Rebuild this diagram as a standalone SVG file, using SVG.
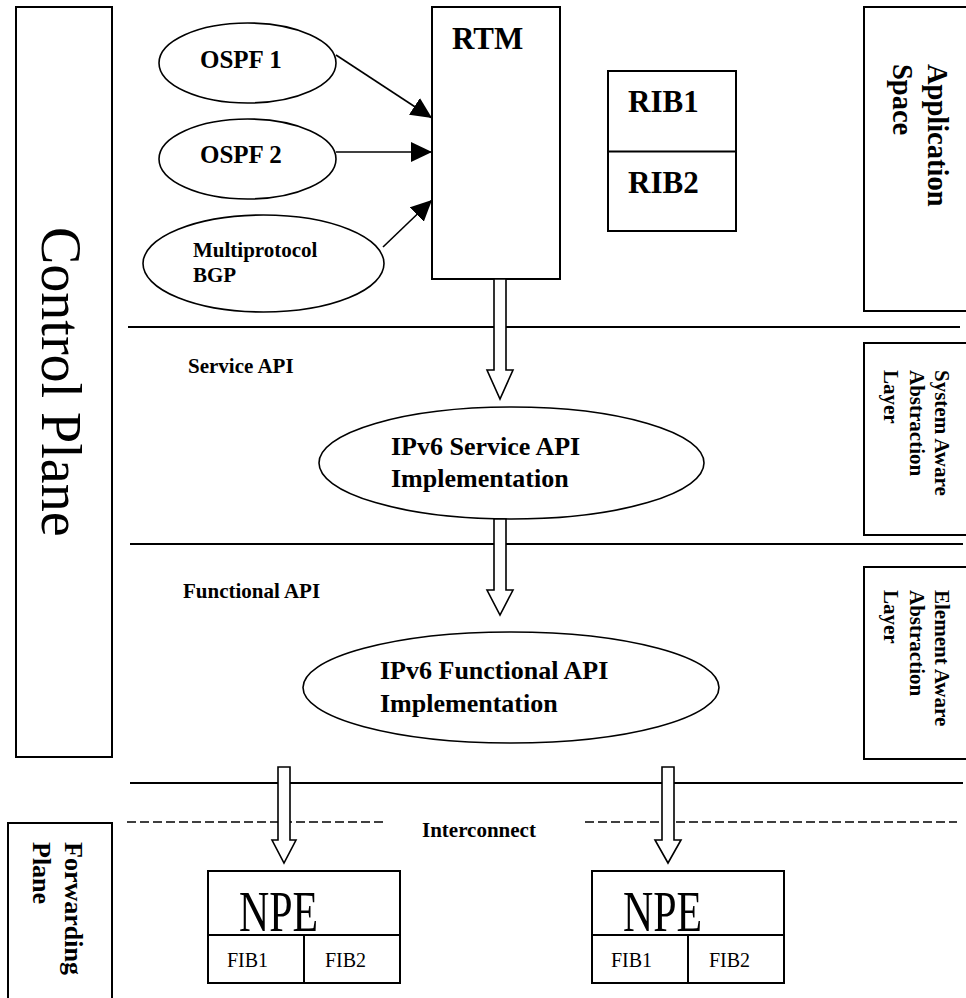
<svg xmlns="http://www.w3.org/2000/svg" width="966" height="998" viewBox="0 0 966 998">
<style>
.box{fill:#fff;stroke:#000;stroke-width:2}
.ell{fill:#fff;stroke:#000;stroke-width:1.6}
.ln{stroke:#000;stroke-width:2;fill:none}
.dash{stroke:#000;stroke-width:1.6;stroke-dasharray:9 4;fill:none}
.conn{stroke:#000;stroke-width:1.6;fill:none;marker-end:url(#ah)}
.hollow{fill:#fff;stroke:#000;stroke-width:1.6}
.b{font-family:"Liberation Serif","Times New Roman",serif;font-weight:bold;fill:#000}
.r{font-family:"Liberation Serif","Times New Roman",serif;fill:#000}
</style>
<defs>
<marker id="ah" markerUnits="userSpaceOnUse" viewBox="0 0 21 20" refX="21" refY="10" markerWidth="21" markerHeight="20" orient="auto">
<path d="M0,0 L21,10 L0,20 z" fill="#000"/>
</marker>
</defs>
<rect width="966" height="998" fill="#fff"/>

<g id="layers">
<line class="ln" x1="128" y1="327" x2="960" y2="327"/>
<line class="ln" x1="130" y1="544" x2="963" y2="544"/>
<line class="ln" x1="130" y1="783" x2="963" y2="783"/>
<line class="dash" x1="127" y1="822" x2="383" y2="822"/>
<line class="dash" x1="585" y1="822" x2="957" y2="822"/>
<text class="b" x="188" y="373" font-size="21">Service API</text>
<text class="b" x="183" y="598" font-size="21">Functional API</text>
<text class="b" x="422" y="837" font-size="21">Interconnect</text>
</g>

<g id="control-plane">
<rect class="box" x="16" y="7" width="96" height="750"/>
<text class="r" font-size="56" transform="translate(42,227) rotate(90)" x="0" y="0">Control Plane</text>
</g>

<g id="forwarding-plane">
<rect class="box" x="8" y="823" width="104" height="200"/>
<text class="b" font-size="26" transform="translate(65,842) rotate(90)" x="0" y="0">Forwarding</text>
<text class="b" font-size="26" transform="translate(33,842) rotate(90)" x="0" y="0">Plane</text>
</g>

<g id="application-space">
<rect class="box" x="864" y="7" width="120" height="304"/>
<text class="b" font-size="28.5" transform="translate(928,64) rotate(90)" x="0" y="0">Application</text>
<text class="b" font-size="28.5" transform="translate(893,64) rotate(90)" x="0" y="0">Space</text>
</g>

<g id="system-aware">
<rect class="box" x="864" y="343" width="120" height="192"/>
<text class="b" font-size="21" transform="translate(935,370) rotate(90)" x="0" y="0">System Aware</text>
<text class="b" font-size="21" transform="translate(910,370) rotate(90)" x="0" y="0">Abstraction</text>
<text class="b" font-size="21" transform="translate(884,370) rotate(90)" x="0" y="0">Layer</text>
</g>

<g id="element-aware">
<rect class="box" x="864" y="567" width="120" height="192"/>
<text class="b" font-size="21" transform="translate(935,590) rotate(90)" x="0" y="0">Element Aware</text>
<text class="b" font-size="21" transform="translate(910,590) rotate(90)" x="0" y="0">Abstraction</text>
<text class="b" font-size="21" transform="translate(884,590) rotate(90)" x="0" y="0">Layer</text>
</g>

<g id="ospf1">
<ellipse class="ell" cx="247.5" cy="63" rx="88.5" ry="40"/>
<text class="b" x="200" y="68" font-size="25">OSPF 1</text>
</g>
<g id="ospf2">
<ellipse class="ell" cx="247.5" cy="159" rx="88.5" ry="40"/>
<text class="b" x="200" y="163" font-size="25">OSPF 2</text>
</g>
<g id="bgp">
<ellipse class="ell" cx="263.5" cy="263.5" rx="120.5" ry="48.5"/>
<text class="b" x="193" y="257" font-size="21">Multiprotocol</text>
<text class="b" x="193" y="282" font-size="21">BGP</text>
</g>

<g id="rtm">
<rect class="box" x="432" y="7" width="128" height="272"/>
<text class="b" x="452" y="49" font-size="31">RTM</text>
</g>

<g id="rib">
<rect class="box" x="608" y="71" width="128" height="160"/>
<line class="ln" x1="608" y1="151.5" x2="736" y2="151.5"/>
<text class="b" x="628" y="112" font-size="31">RIB1</text>
<text class="b" x="628" y="193" font-size="31">RIB2</text>
</g>

<g id="service-impl">
<ellipse class="ell" cx="511.5" cy="463" rx="192.5" ry="56"/>
<text class="b" x="391" y="455" font-size="26">IPv6 Service API</text>
<text class="b" x="391" y="487" font-size="26">Implementation</text>
</g>

<g id="functional-impl">
<ellipse class="ell" cx="511" cy="687.5" rx="208" ry="55.5"/>
<text class="b" x="380" y="679" font-size="26">IPv6 Functional API</text>
<text class="b" x="380" y="712" font-size="26">Implementation</text>
</g>

<g id="npe1">
<rect class="box" x="208" y="871" width="192" height="112"/>
<line class="ln" x1="208" y1="935" x2="400" y2="935"/>
<line class="ln" x1="304" y1="935" x2="304" y2="983"/>
<text class="r" x="239" y="931" font-size="56" textLength="79" lengthAdjust="spacingAndGlyphs">NPE</text>
<text class="r" x="227" y="967" font-size="20">FIB1</text>
<text class="r" x="325" y="967" font-size="20">FIB2</text>
</g>

<g id="npe2">
<rect class="box" x="592" y="871" width="192" height="112"/>
<line class="ln" x1="592" y1="935" x2="784" y2="935"/>
<line class="ln" x1="688" y1="935" x2="688" y2="983"/>
<text class="r" x="623" y="931" font-size="56" textLength="79" lengthAdjust="spacingAndGlyphs">NPE</text>
<text class="r" x="611" y="967" font-size="20">FIB1</text>
<text class="r" x="709" y="967" font-size="20">FIB2</text>
</g>

<g id="connectors">
<line class="conn" x1="336" y1="55" x2="432" y2="118"/>
<line class="conn" x1="336" y1="152" x2="432" y2="152"/>
<line class="conn" x1="383" y1="247" x2="432" y2="200"/>
<path class="hollow" d="M494,279 L494,370 L487,370 L500,399 L513,370 L506,370 L506,279 Z"/>
<path class="hollow" d="M494,519 L494,590 L487,590 L500,615 L513,590 L506,590 L506,519 Z"/>
<path class="hollow" d="M278,767 L278,840 L272,840 L284,863 L296,840 L290,840 L290,767 Z"/>
<path class="hollow" d="M662,767 L662,840 L655,840 L668,863 L681,840 L674,840 L674,767 Z"/>
</g>
</svg>
